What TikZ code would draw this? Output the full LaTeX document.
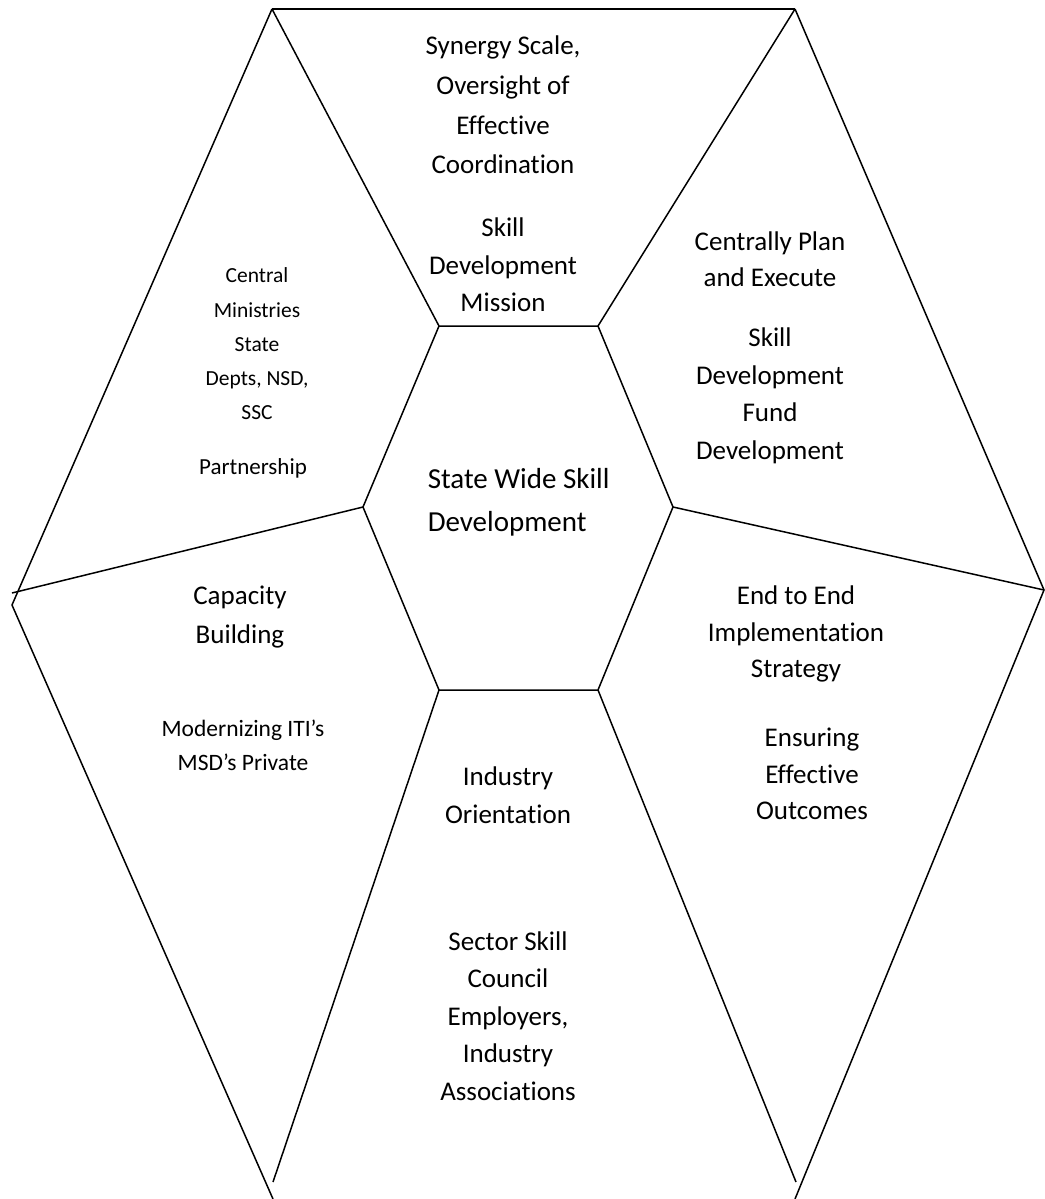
\documentclass[tikz,border=0pt]{standalone}
\usepackage{fontspec}
\setmainfont{Carlito}[Ligatures={NoCommon}]
\begin{document}
\begin{tikzpicture}[x=1pt,y=-1pt,line width=1.5pt,line cap=butt,
  lbl/.style={align=center,inner sep=0pt,font=\fontsize{27}{37.5}\selectfont},
  sml/.style={align=center,inner sep=0pt,font=\fontsize{21.5}{34.3}\selectfont},
  big/.style={align=left,inner sep=0pt,font=\fontsize{29}{43}\selectfont}]
\useasboundingbox (0,0) rectangle (1044,1199);
% outer points
\coordinate (TL) at (272,9);
\coordinate (TR) at (795,9);
\coordinate (L) at (12,605);
\coordinate (Lx) at (12,593);
\coordinate (R) at (1044,590);
\coordinate (BL) at (273,1199);
\coordinate (BR) at (795,1199);
\coordinate (BLi) at (273,1182);
\coordinate (BRi) at (796,1182);
% hexagon
\coordinate (H1) at (439,326);
\coordinate (H2) at (598,326);
\coordinate (H3) at (673,507);
\coordinate (H4) at (598,690);
\coordinate (H5) at (439,690);
\coordinate (H6) at (363,507);
\draw (H1) -- (H2) -- (H3) -- (H4) -- (H5) -- (H6) -- cycle;
\draw (TL) -- (TR);
\draw (TL) -- (H1);
\draw (TR) -- (H2);
\draw (TL) -- (L) -- (BL);
\draw (TR) -- (R) -- (BR);
\draw (H6) -- (Lx);
\draw (H3) -- (R);
\draw (H5) -- (BLi);
\draw (H4) -- (BRi);
% texts
\node[lbl,font=\fontsize{27}{39.7}\selectfont] (t1) at (503,105) {Synergy Scale,\\Oversight of\\Effective\\Coordination};
\node[lbl] (t2) at (503,265) {Skill\\Development\\Mission};
\node[sml] (l1) at (257,344) {Central\\Ministries\\State\\Depts, NSD,\\SSC};
\begin{scope}
\clip (150,440) rectangle (380,477);
\node[sml,font=\fontsize{23}{34}\selectfont] (l2) at (253,468) {Partnership};
\end{scope}
\node[lbl,font=\fontsize{27}{36}\selectfont] (r1) at (770,259) {Centrally Plan\\and Execute};
\node[lbl] (r2) at (770,396) {Skill\\Development\\Fund\\Development};
\node[big,anchor=west] (c) at (427,502) {State Wide Skill\\Development};
\node[lbl,font=\fontsize{27}{39}\selectfont] (lb1) at (240,617) {Capacity\\Building};
\node[sml,font=\fontsize{23.5}{34.3}\selectfont] (lb2) at (243,745) {Modernizing ITI’s\\MSD’s Private};
\node[lbl] (b1) at (508,795) {Industry\\Orientation};
\node[lbl] (b2) at (508,1016) {Sector Skill\\Council\\Employers,\\Industry\\Associations};
\node[lbl,font=\fontsize{27}{36.5}\selectfont] (rb1) at (796,634) {End to End\\Implementation\\Strategy};
\node[lbl,font=\fontsize{27}{36.5}\selectfont] (rb2) at (812,774) {Ensuring\\Effective\\Outcomes};
\end{tikzpicture}
\end{document}
